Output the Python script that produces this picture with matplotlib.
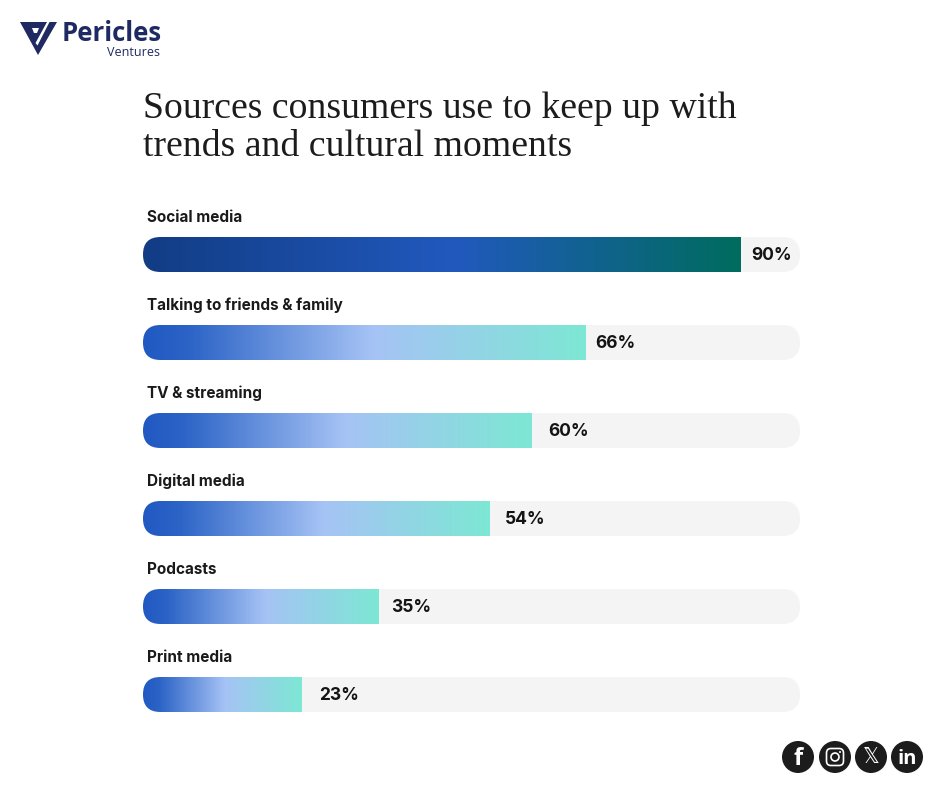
# -*- coding: utf-8 -*-
import numpy as np
import matplotlib.pyplot as plt
from matplotlib.colors import LinearSegmentedColormap
from matplotlib.patches import FancyBboxPatch, Polygon, Circle

categories = ['Social media', 'Talking to friends & family', 'TV & streaming',
              'Digital media', 'Podcasts', 'Print media']
shown_percent = [90, 66, 60, 54, 35, 23]
# bar lengths as drawn, on the 0-100 track (the picture is not exactly to scale)
bar_lengths = [91.0, 67.4, 59.2, 52.7, 35.9, 24.2]
label_gaps = [10, 9, 16, 16, 12, 17]

title = 'Sources consumers use to keep up with\ntrends and cultural moments'

W, H = 940, 788
fig = plt.figure(figsize=(W / 100, H / 100), dpi=100, facecolor='white')

# pixel canvas for title, logo and icons
bg = fig.add_axes([0, 0, 1, 1])
bg.set_xlim(0, W)
bg.set_ylim(H, 0)
bg.axis('off')

# bars: 0-100 along x, one unit per row along y
left, right, top, bottom = 143, 800, 210.5, 738.5
ax = fig.add_axes([left / W, 1 - bottom / H, (right - left) / W, (bottom - top) / H])
ax.set_xlim(0, 100)
ax.set_ylim(5.5, -0.5)
ax.axis('off')

px_x = 100 / (right - left)
px_y = 6 / (bottom - top)
half = 17.5 * px_y
radius = 17.5 * px_x
aspect = px_y / px_x

dark_cmap = LinearSegmentedColormap.from_list('dark', [(0, '#123c84'), (0.52, '#2159be'), (1, '#006c5e')])
light_cmap = LinearSegmentedColormap.from_list('light', [(0, '#2059c2'), (0.1, '#2b63c6'), (0.52, '#a6c3f5'), (1, '#7de7d4')])
ramp = np.linspace(0, 1, 256).reshape(1, -1)

for i, name in enumerate(categories):
    track = FancyBboxPatch((0, i - half), 100, 2 * half,
                           boxstyle='round,pad=0,rounding_size=%f' % radius,
                           mutation_aspect=aspect, fc='#f4f4f4', ec='none')
    ax.add_patch(track)
    cmap = dark_cmap if i == 0 else light_cmap
    im = ax.imshow(ramp, cmap=cmap, extent=(0, bar_lengths[i], i + half, i - half),
                   aspect='auto', zorder=2, interpolation='bilinear')
    im.set_clip_path(track)
    ax.text(0.6, i - 37.5 * px_y, name, fontsize=11, fontweight='bold', family='Inter',
            color='#1a1a1a', va='center', ha='left')
    ax.text(bar_lengths[i] + label_gaps[i] * px_x, i + 1.5 * px_y, '%d%%' % shown_percent[i], fontsize=12.5,
            fontweight='bold', family='Inter', color='#141414', va='center', ha='left', zorder=3)
ax.set_xlim(0, 100)
ax.set_ylim(5.5, -0.5)

bg.text(143, 128, title, fontsize=27.2, family='Liberation Serif', color='#1c1c1c',
        va='center', ha='left', linespacing=1.15)

# logo
navy = '#1f2a63'
bg.add_patch(Polygon([(20, 22), (57, 22), (38, 55)], fc=navy, ec='none'))
bg.add_patch(Polygon([(32, 28), (39, 28), (37, 33), (34, 33)], fc='white', ec='none'))
bg.add_patch(Polygon([(35.5, 43), (47, 22), (49.5, 22), (37.5, 45.5)], fc='white', ec='none'))
bg.text(62, 33.5, 'Pericles', fontsize=18.5, fontweight='bold', family='Open Sans', color=navy, va='center')
bg.text(160, 52, 'Ventures', fontsize=9, family='Open Sans', color=navy, va='center', ha='right')

# social icons
icon_dark = '#1c1c1c'
for cx in [798, 835, 871, 907]:
    bg.add_patch(Circle((cx, 757), 16, fc=icon_dark, ec='none'))
bg.text(798, 759, 'f', fontsize=17, fontweight='bold', family='Open Sans', color='white', ha='center', va='center')
bg.add_patch(FancyBboxPatch((826.5, 748.5), 17, 17, boxstyle='round,pad=0,rounding_size=4.5',
                            fc='none', ec='white', lw=1.2))
bg.add_patch(Circle((835, 757), 4, fc='none', ec='white', lw=1.2))
bg.add_patch(Circle((840, 752), 1, fc='white', ec='none'))
bg.text(871, 757, '\U0001D54F', fontsize=15, family='DejaVu Sans', color='white', ha='center', va='center')
bg.text(907, 758.5, 'in', fontsize=14.5, fontweight='bold', family='Open Sans', color='white', ha='center', va='center')

fig.savefig('out.png', dpi=100, facecolor='white')
